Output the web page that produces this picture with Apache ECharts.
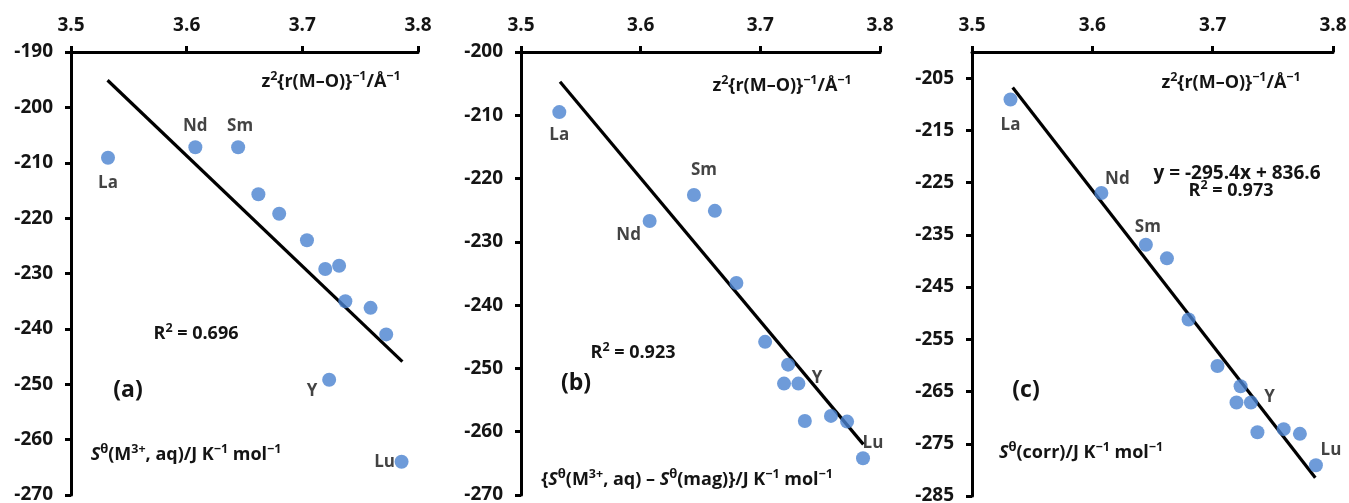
<!DOCTYPE html>
<html>
<head>
<meta charset="utf-8">
<script src="https://cdn.jsdelivr.net/npm/echarts@6/dist/echarts.min.js"></script>
<style>
html,body{margin:0;padding:0;background:#fff;}
#chart{width:1349px;height:503px;}
</style>
</head>
<body>
<div id="chart"></div>
<script>
// ---- data ----
const ions = ['La','Nd','Sm','','','','','Y','','','','','Lu'];
const xVals = [3.532, 3.6075, 3.6445, 3.662, 3.680, 3.704, 3.7198, 3.7232, 3.7318, 3.7372, 3.759, 3.7725, 3.7858];
const yA = [-209.1, -207.2, -207.2, -215.7, -219.2, -224.0, -229.2, -249.2, -228.6, -235.0, -236.2, -241.0, -264.0];
const yB = [-209.5, -226.7, -222.6, -225.1, -236.5, -245.8, -252.4, -249.4, -252.4, -258.3, -257.5, -258.4, -264.2];
const yC = [-209.1, -227.0, -236.9, -239.5, -251.2, -260.1, -267.1, -264.0, -267.1, -272.8, -272.2, -273.1, -279.1];
const trendAX = [3.5316, 3.7865], trendAY = [-195.1, -245.9];
const trendBX = [3.5326, 3.7861], trendBY = [-204.7, -262.0];
const trendCX = [3.5338, 3.7853], trendCY = [-206.8, -281.5];
const xTicks = [3.5, 3.6, 3.7, 3.8];
const yTicksA = [-270, -260, -250, -240, -230, -220, -210, -200, -190];
const yTicksB = [-270, -260, -250, -240, -230, -220, -210, -200];
const yTicksC = [-285, -275, -265, -255, -245, -235, -225, -215, -205];

// ---- styling ----
const FONT = 'Open Sans';
const TXT = '#141414';
const DOT = '#4a82cf';
// label offsets (pixels) per panel, keyed by ion name
const labelOffsets = [
  {La:[0,25], Nd:[0,-21], Sm:[2,-21], Y:[-17,11], Lu:[-17,0]},
  {La:[0,23], Nd:[-21,14], Sm:[10,-25], Y:[29,14], Lu:[10,-15]},
  {La:[0,26], Nd:[16,-14], Sm:[2,-18], Y:[29,11], Lu:[15,-15]}
];

const grids = [
  {left:71, top:52, width:347, height:443},
  {left:521, top:52, width:359, height:443},
  {left:972, top:52, width:361, height:444}
];
const yRanges = [[-270,-190,yTicksA],[-270,-200,yTicksB],[-285,-200,yTicksC]];
const yData = [yA, yB, yC];
const trends = [[trendAX,trendAY],[trendBX,trendBY],[trendCX,trendCY]];

const axisLine = {show:true, onZero:false, lineStyle:{color:'#000', width:3}};
const tickLab = {color:TXT, fontFamily:FONT, fontWeight:'bold', fontSize:19};

const option = {
  animation:false,
  backgroundColor:'#fff',
  grid: grids.map(g => Object.assign({outerBoundsMode:'none', containLabel:false}, g)),
  xAxis: grids.map((g,i) => ({
    type:'value', gridIndex:i, position:'top', min:3.5, max:3.8,
    axisLine: axisLine,
    axisTick:{show:true, inside:false, length:6, lineStyle:{color:'#000', width:3}, customValues:xTicks},
    axisLabel:Object.assign({margin:17, customValues:xTicks, formatter:v=>Number(v).toFixed(1)}, tickLab),
    splitLine:{show:false}
  })),
  yAxis: grids.map((g,i) => ({
    type:'value', gridIndex:i, position:'left', min:yRanges[i][0], max:yRanges[i][1],
    axisLine: axisLine,
    axisTick:{show:true, inside:false, length:6, lineStyle:{color:'#000', width:3}, customValues:yRanges[i][2]},
    axisLabel:Object.assign({margin:18, customValues:yRanges[i][2]}, tickLab),
    splitLine:{show:false}
  })),
  series: []
};

for (let p = 0; p < 3; p++) {
  option.series.push({
    type:'line', xAxisIndex:p, yAxisIndex:p, symbol:'none', silent:true,
    lineStyle:{color:'#000', width:3.2},
    data: trends[p][0].map((x,k)=>[x, trends[p][1][k]]),
    z:2
  });
  option.series.push({
    type:'scatter', xAxisIndex:p, yAxisIndex:p, symbolSize:14,
    itemStyle:{color:DOT},
    z:3,
    data: xVals.map((x,k)=>{
      const name = ions[k];
      const item = {value:[x, yData[p][k]], name:name};
      if (name) {
        const off = labelOffsets[p][name] || [0,0];
        item.label = {show:true, position:'inside', offset:off, formatter:name,
          color:TXT, fontFamily:FONT, fontWeight:'bold', fontSize:17};
      }
      return item;
    })
  });
}

const rich = {
  n:{fontFamily:FONT, fontWeight:'bold', fontSize:18, color:TXT, lineHeight:24},
  e:{fontFamily:FONT, fontWeight:'bold', fontSize:19, color:TXT, lineHeight:24},
  s:{fontFamily:FONT, fontWeight:'bold', fontStyle:'italic', fontSize:18, color:TXT, lineHeight:24},
  th:{fontFamily:FONT, fontWeight:'bold', fontSize:13, color:TXT, lineHeight:24, verticalAlign:'top'},
  sup:{fontFamily:FONT, fontWeight:'bold', fontSize:12.5, color:TXT, lineHeight:24, verticalAlign:'top'}
};
function txt(x, y, text, extra) {
  return {type:'text', x:x, y:y, z:10,
    style:Object.assign({text:text, rich:rich, align:'center', verticalAlign:'middle',
      fontFamily:FONT, fontWeight:'bold', fontSize:18, fill:TXT}, extra||{})};
}
const xTitle = '{n|z}{sup|2}{n|{r(M–O)}}{sup|−1}{n|/Å}{sup|−1}';
option.graphic = [
  txt(331, 82, xTitle),
  txt(782, 86, xTitle),
  txt(1231, 83, xTitle),
  txt(196, 334, '{n|R}{sup|2}{n| = 0.696}'),
  txt(633, 353, '{n|R}{sup|2}{n| = 0.923}'),
  txt(1237, 174, '{e|y = -295.4x + 836.6}'),
  txt(1231, 191, '{n|R}{sup|2}{n| = 0.973}'),
  txt(128, 390, '(a)', {fontSize:23}),
  txt(576, 383, '(b)', {fontSize:23}),
  txt(1026, 390, '(c)', {fontSize:23}),
  txt(186, 455, '{s|S}{th|θ}{n|(M}{sup|3+}{n|, aq)/J K}{sup|−1}{n| mol}{sup|−1}'),
  txt(687, 480, '{{s|S}{th|θ}{n|(M}{sup|3+}{n|, aq) – }{s|S}{th|θ}{n|(mag)}}{n|/J K}{sup|−1}{n| mol}{sup|−1}', {fontSize:18}),
  txt(1081, 453, '{s|S}{th|θ}{n|(corr)/J K}{sup|−1}{n| mol}{sup|−1}')
];

const chart = echarts.init(document.getElementById('chart'), null, {renderer:'canvas'});
chart.setOption(option);
</script>
</body>
</html>
